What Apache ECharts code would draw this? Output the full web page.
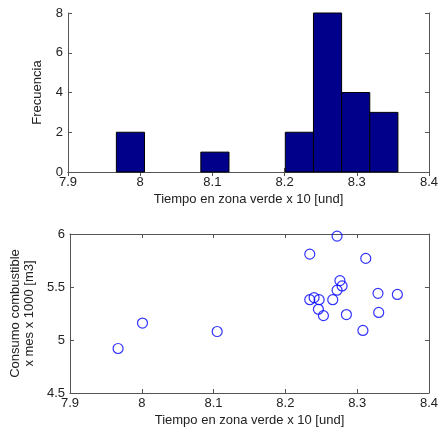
<!DOCTYPE html>
<html><head><meta charset="utf-8">
<script src="https://cdn.jsdelivr.net/npm/echarts@6/dist/echarts.min.js"></script>
<style>html,body{margin:0;padding:0;background:#fff}#c{width:441px;height:436px}</style>
</head><body><div id="c"></div>
<script>
// Histogram
const binEdges = [7.967, 8.006, 8.045, 8.084, 8.123, 8.162, 8.201, 8.240, 8.279, 8.318, 8.357];
const binCounts = [2, 0, 0, 1, 0, 0, 2, 8, 4, 3];
// Scatter
const tiempo = [7.967, 8.001, 8.105, 8.234, 8.234, 8.240, 8.247, 8.246, 8.253, 8.266, 8.272, 8.272, 8.276, 8.279, 8.285, 8.308, 8.312, 8.329, 8.330, 8.356];
const consumo = [4.92, 5.16, 5.08, 5.81, 5.38, 5.40, 5.38, 5.29, 5.23, 5.38, 5.98, 5.47, 5.56, 5.51, 5.24, 5.09, 5.77, 5.44, 5.26, 5.43];
const xTitle = 'Tiempo en zona verde x 10 [und]';
const yTitleTop = 'Frecuencia';
const yTitleBottom = 'Consumo combustible\nx mes x 1000 [m3]';

const font = 'Liberation Sans, Arial, sans-serif';
const axCol = '#555';
const txtCol = '#222';
const fs = 13;
function xAx(grid, show) {
  return {
    type: 'value', gridIndex: grid, min: 7.9, max: 8.4, interval: 0.1,
    position: show ? 'bottom' : 'top',
    axisLine: {show: true, lineStyle: {color: axCol, width: 1}},
    axisTick: {show: true, inside: true, length: 4, lineStyle: {color: axCol}},
    axisLabel: {show: show, color: txtCol, fontFamily: font, fontSize: fs, margin: 4,
      formatter: v => String(Math.round(v * 10) / 10)},
    splitLine: {show: false},
    name: show ? xTitle : '', nameLocation: 'middle', nameGap: 21,
    nameTextStyle: {color: txtCol, fontFamily: font, fontSize: fs}
  };
}
function yAx(grid, show, min, max, interval, name, gap, fmt) {
  return {
    type: 'value', gridIndex: grid, min: min, max: max, interval: interval,
    position: show ? 'left' : 'right',
    axisLine: {show: true, lineStyle: {color: axCol, width: 1}},
    axisTick: {show: true, inside: true, length: 4, lineStyle: {color: axCol}},
    axisLabel: {show: show, color: txtCol, fontFamily: font, fontSize: fs, margin: 5, formatter: fmt},
    splitLine: {show: false},
    name: show ? name : '', nameLocation: 'middle', nameGap: gap,
    nameTextStyle: {color: txtCol, fontFamily: font, fontSize: fs, lineHeight: 14}
  };
}
const chart = echarts.init(document.getElementById('c'), null, {renderer: 'canvas'});
chart.setOption({
  animation: false,
  backgroundColor: '#fff',
  grid: [
    {left: 68, right: 11, top: 13, height: 159},
    {left: 68, right: 11, top: 234, height: 159}
  ],
  xAxis: [xAx(0, true), xAx(0, false), xAx(1, true), xAx(1, false)],
  yAxis: [
    yAx(0, true, 0, 8, 2, yTitleTop, 24, v => String(v)),
    yAx(0, false, 0, 8, 2, '', 0),
    yAx(1, true, 4.5, 6, 0.5, yTitleBottom, 24, v => String(v)),
    yAx(1, false, 4.5, 6, 0.5, '', 0)
  ],
  series: [
    {
      type: 'custom', xAxisIndex: 0, yAxisIndex: 0,
      data: binCounts.map((c, i) => [binEdges[i], binEdges[i + 1], c]),
      renderItem: function (params, api) {
        const c = api.value(2);
        if (!c) return null;
        const p0 = api.coord([api.value(0), 0]);
        const p1 = api.coord([api.value(1), c]);
        return {type: 'rect', shape: {x: p0[0], y: p1[1], width: p1[0] - p0[0], height: p0[1] - p1[1]},
          style: {fill: '#00008b', stroke: '#000', lineWidth: 1}};
      },
      z: 1
    },
    {
      type: 'scatter', xAxisIndex: 2, yAxisIndex: 2,
      data: tiempo.map((t, i) => [t, consumo[i]]),
      symbol: 'circle', symbolSize: 10,
      itemStyle: {color: 'rgba(0,0,0,0)', borderColor: '#0000ff', borderWidth: 1.2}
    }
  ]
});
</script></body></html>
